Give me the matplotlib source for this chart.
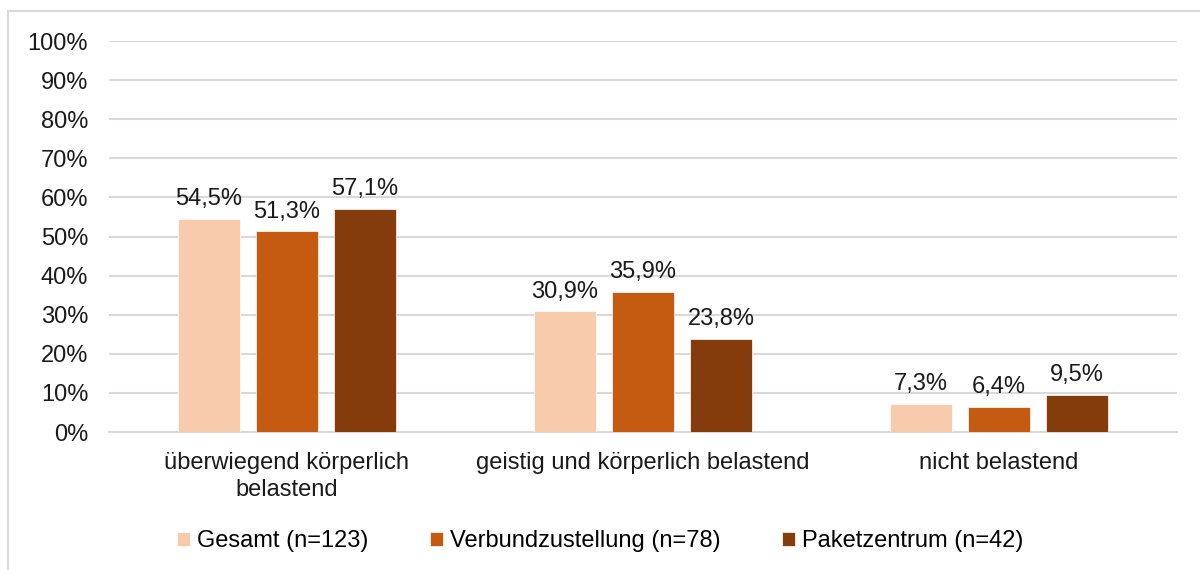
import matplotlib
matplotlib.use("Agg")
import matplotlib.pyplot as plt
import numpy as np
from matplotlib.patches import Rectangle

categories = ["überwiegend körperlich\nbelastend", "geistig und körperlich belastend", "nicht belastend"]
series_names = ["Gesamt (n=123)", "Verbundzustellung (n=78)", "Paketzentrum (n=42)"]
gesamt = [54.5, 30.9, 7.3]
verbund = [51.3, 35.9, 6.4]
paket = [57.1, 23.8, 9.5]
colors = ["#F8CBAD", "#C55A11", "#843C0C"]
yticks = [0, 10, 20, 30, 40, 50, 60, 70, 80, 90, 100]

plt.rcParams['font.family'] = ['Liberation Sans', 'DejaVu Sans']
FS = 17

fig = plt.figure(figsize=(12, 5.7), dpi=100)
ax = fig.add_axes([0.0908, 0.242, 0.890, 0.686])

x = np.arange(len(categories))
w = 0.174
step = 0.219
for i, (vals, name, c) in enumerate(zip([gesamt, verbund, paket], series_names, colors)):
    bars = ax.bar(x + (i - 1) * step, vals, w, color=c, label=name, zorder=3,
                  edgecolor="white", linewidth=0.5)
    for b, v in zip(bars, vals):
        ax.text(b.get_x() + b.get_width() / 2, v + 2.2, f"{v:.1f}%".replace(".", ","),
                ha="center", va="bottom", fontsize=FS, color="#1a1a1a", zorder=4)

ax.set_xlim(-0.5, 2.5)
ax.set_ylim(0, 100)
ax.set_yticks(yticks)
ax.set_yticklabels([f"{t}%" for t in yticks], fontsize=FS, color="#1a1a1a")
ax.set_xticks(x)
ax.set_xticklabels(categories, fontsize=FS, color="#1a1a1a", linespacing=1.3)
ax.tick_params(axis="both", length=0)
ax.tick_params(axis="y", pad=15)
ax.tick_params(axis="x", pad=14)
ax.yaxis.grid(True, color="#D9D9D9", linewidth=1.5, zorder=0)
ax.set_axisbelow(True)
for s in ["top", "right", "left"]:
    ax.spines[s].set_visible(False)
ax.spines["bottom"].set_color("#D9D9D9")
ax.spines["bottom"].set_linewidth(1.5)

leg = fig.legend(loc="center", bbox_to_anchor=(0.5, 1 - 541 / 570), ncol=3, frameon=False,
                 fontsize=FS, handlelength=0.55, handleheight=0.55, handletextpad=0.3,
                 columnspacing=2.6)

fig.patches.append(Rectangle((8 / 1200, -0.1), 1.2, 1 - 11.5 / 570 + 0.1,
                             transform=fig.transFigure, fill=False,
                             edgecolor="#D9D9D9", linewidth=1.5))

fig.savefig("out.png", dpi=100)
